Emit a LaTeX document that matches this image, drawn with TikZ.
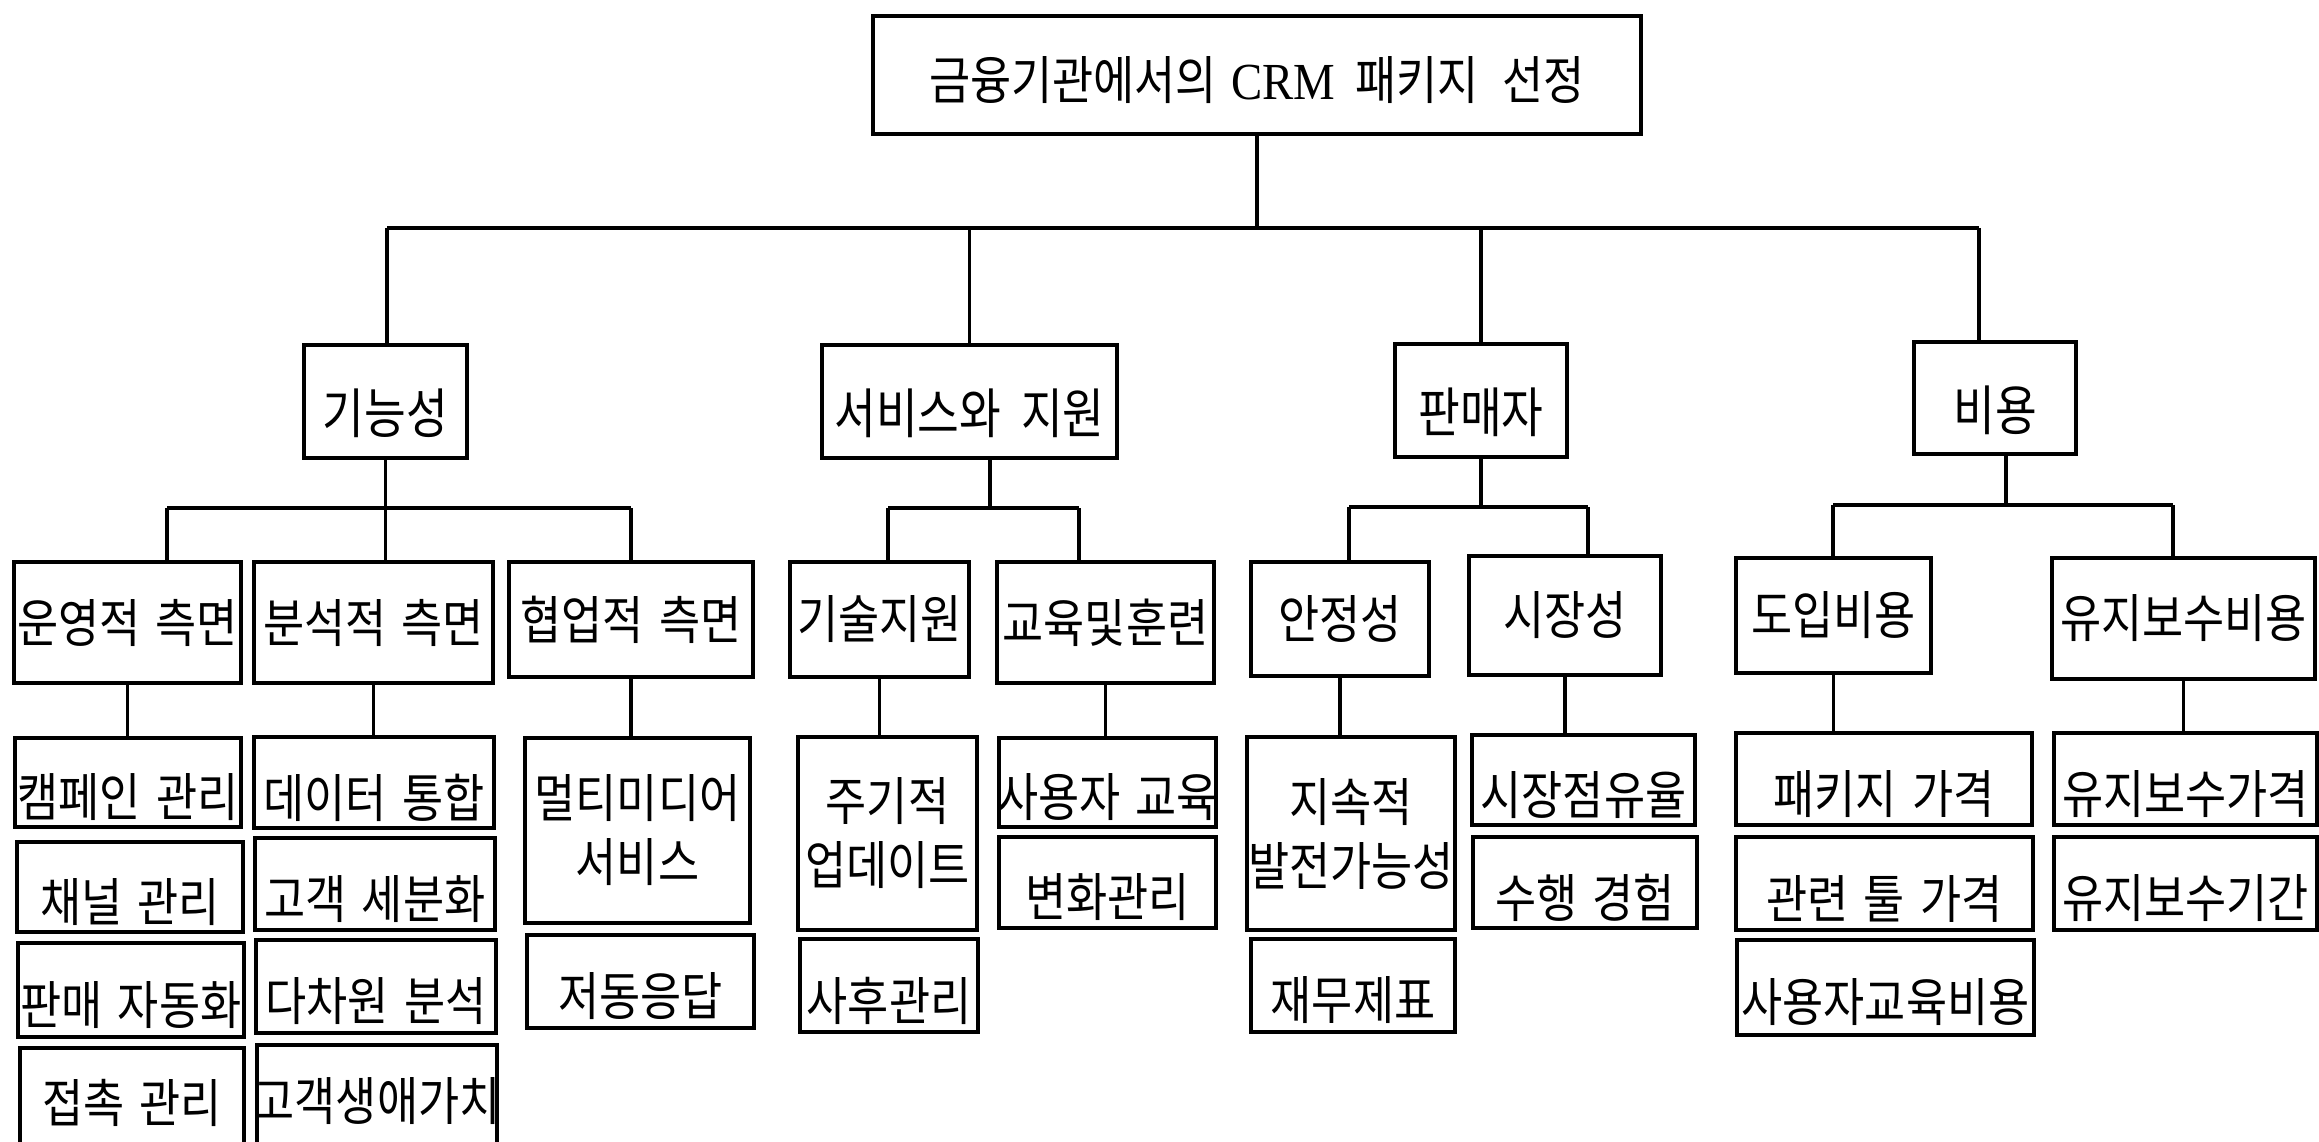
\documentclass[tikz,border=0pt]{standalone}
\usepackage{fontspec}
\newfontfamily\krA[FakeStretch=0.86]{Noto Sans CJK KR}
\newfontfamily\krB[FakeStretch=0.84]{Noto Sans CJK KR}
\newfontfamily\krR[FakeStretch=0.86]{Noto Sans CJK KR}
\newfontfamily\lsr[FakeStretch=0.9]{Liberation Serif}
\usetikzlibrary{fit}
\newcommand\bx[7]{\node[box, fit={(#3,#4) (#5,#6)}, label={[#1]center:{#7}}] (#2) {};}
\newcommand\ksp[1]{\hspace{#1pt}}
\begin{document}
\begin{tikzpicture}[x=1pt,y=-1pt,
 box/.style={draw, line width=4.5pt, inner sep=0pt},
 conn/.style={line width=3.5pt},
 l0/.style={font=\krR\fontsize{52}{60}\selectfont, yshift=-5pt},
 l1/.style={font=\krB\fontsize{54}{64}\selectfont, yshift=-12pt},
 l2/.style={font=\krA\fontsize{52}{64}\selectfont},
 l3/.style={font=\krA\fontsize{52}{64}\selectfont, yshift=-15pt},
 l3b/.style={font=\krA\fontsize{52}{64}\selectfont, yshift=9pt},
 l3m/.style={font=\krA\fontsize{52}{64}\selectfont, align=center},
]
\fill[white] (0,0) rectangle (2319,1142);
\useasboundingbox (0,0) rectangle (2319,1142);
\clip (0,0) rectangle (2319,1142);

% root
\bx{l0}{root}{873}{16}{1641}{134}{금융기관에서의\ksp{14}{\lsr\fontsize{52}{60}\selectfont CRM}\ksp{20}패키지\ksp{24}선정}

% level 1
\bx{l1}{kn}{304}{345}{467}{458}{기능성}
\bx{l1}{sv}{822}{345}{1117}{458}{서비스와\ksp{20}지원}
\bx{l1}{pm}{1395}{344}{1567}{457}{판매자}
\bx{l1}{by}{1914}{342}{2076}{454}{비용}

% level 2
\bx{l2}{k1}{14}{562}{241}{683}{운영적\ksp{15}측면}
\bx{l2}{k2}{254}{562}{493}{683}{분석적\ksp{15}측면}
\bx{l2}{k3}{509}{562}{753}{677}{협업적\ksp{15}측면}
\bx{l2}{s1}{790}{562}{969}{677}{기술지원}
\bx{l2}{s2}{997}{562}{1214}{683}{교육및훈련}
\bx{l2}{p1}{1251}{562}{1429}{676}{안정성}
\bx{l2}{p2}{1469}{556}{1661}{675}{시장성}
\bx{l2}{c1}{1736}{558}{1931}{673}{도입비용}
\bx{l2}{c2}{2052}{558}{2315}{679}{유지보수비용}

% level 3
\bx{l3}{k1a}{15}{738}{241}{827}{캠페인\ksp{15}관리}
\bx{l3}{k1b}{17}{842}{243}{932}{채널\ksp{15}관리}
\bx{l3}{k1c}{18}{943}{244}{1037}{판매\ksp{15}자동화}
\bx{l3b}{k1d}{20}{1048}{244}{1175}{접촉\ksp{15}관리}
\bx{l3}{k2a}{254}{737}{494}{828}{데이터\ksp{15}통합}
\bx{l3}{k2b}{255}{838}{495}{930}{고객\ksp{15}세분화}
\bx{l3}{k2c}{256}{940}{496}{1033}{다차원\ksp{15}분석}
\bx{l3b}{k2d}{257}{1045}{497}{1175}{고객생애가치}
\bx{l3m}{k3a}{525}{738}{750}{923}{멀티미디어\\서비스}
\bx{l3}{k3b}{527}{935}{754}{1028}{저동응답}
\bx{l3m}{s1a}{798}{737}{977}{930}{주기적\\업데이트}
\bx{l3}{s1b}{800}{939}{978}{1032}{사후관리}
\bx{l3}{s2a}{999}{738}{1216}{827}{사용자\ksp{15}교육}
\bx{l3}{s2b}{999}{837}{1216}{928}{변화관리}
\bx{l3m}{p1a}{1247}{737}{1455}{930}{지속적\\발전가능성}
\bx{l3}{p1b}{1251}{939}{1455}{1032}{재무제표}
\bx{l3}{p2a}{1472}{735}{1695}{825}{시장점유율}
\bx{l3}{p2b}{1473}{837}{1697}{928}{수행\ksp{15}경험}
\bx{l3}{c1a}{1736}{733}{2032}{825}{패키지\ksp{15}가격}
\bx{l3}{c1b}{1736}{837}{2033}{930}{관련\ksp{15}툴\ksp{15}가격}
\bx{l3}{c1c}{1737}{940}{2034}{1035}{사용자교육비용}
\bx{l3}{c2a}{2054}{733}{2317}{825}{유지보수가격}
\bx{l3}{c2b}{2054}{837}{2317}{930}{유지보수기간}

% root connectors
\coordinate (rbl) at (387,228);
\coordinate (rbr) at (1979,228);
\draw[conn] (root.south) -- (root.south |- rbl);
\draw[conn] (rbl) -- (rbr);
\draw[conn] (rbl) -- (rbl |- kn.north);
\draw[conn] (sv.north) -- (sv.north |- rbl);
\draw[conn] (pm.north) -- (pm.north |- rbl);
\draw[conn] (rbr) -- (rbr |- by.north);

% kn connectors
\coordinate (knl) at (167,508);
\coordinate (knr) at (631,508);
\draw[conn] (kn.south) -- (kn.south |- k2.north);
\draw[conn] (knl) -- (knr);
\draw[conn] (knl) -- (knl |- k1.north);
\draw[conn] (knr) -- (knr |- k3.north);

% sv connectors
\coordinate (svl) at (888,508);
\coordinate (svm) at (990,508);
\coordinate (svr) at (1079,508);
\draw[conn] (svm |- sv.south) -- (svm);
\draw[conn] (svl) -- (svr);
\draw[conn] (svl) -- (svl |- s1.north);
\draw[conn] (svr) -- (svr |- s2.north);

% pm connectors
\coordinate (pml) at (1349,507);
\coordinate (pmr) at (1588,507);
\draw[conn] (pm.south) -- (pm.south |- pml);
\draw[conn] (pml) -- (pmr);
\draw[conn] (pml) -- (pml |- p1.north);
\draw[conn] (pmr) -- (pmr |- p2.north);

% by connectors
\coordinate (byl) at (1833,505);
\coordinate (bym) at (2006,505);
\coordinate (byr) at (2173,505);
\draw[conn] (bym |- by.south) -- (bym);
\draw[conn] (byl) -- (byr);
\draw[conn] (byl) -- (byl |- c1.north);
\draw[conn] (byr) -- (byr |- c2.north);

% level 2 to level 3
\draw[conn] (k1.south) -- (k1.south |- k1a.north);
\draw[conn] (k2.south) -- (k2.south |- k2a.north);
\draw[conn] (k3.south) -- (k3.south |- k3a.north);
\draw[conn] (s1.south) -- (s1.south |- s1a.north);
\draw[conn] (s2.south) -- (s2.south |- s2a.north);
\draw[conn] (p1.south) -- (p1.south |- p1a.north);
\draw[conn] (p2.south) -- (p2.south |- p2a.north);
\draw[conn] (c1.south) -- (c1.south |- c1a.north);
\draw[conn] (c2.south) -- (c2.south |- c2a.north);
\end{tikzpicture}
\end{document}
